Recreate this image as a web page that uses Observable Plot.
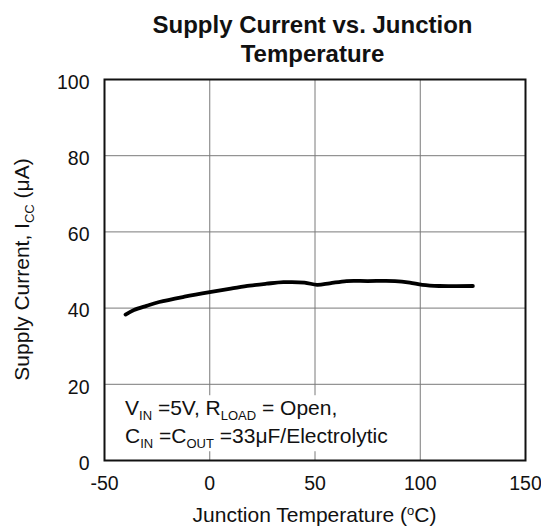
<!DOCTYPE html>
<html><head><meta charset="utf-8">
<script src="https://cdn.jsdelivr.net/npm/d3@7"></script>
<script src="https://cdn.jsdelivr.net/npm/@observablehq/plot@0.6"></script>
<style>
body{margin:0;background:#fff;font-family:"Liberation Sans",Arial,sans-serif}
#wrap{position:relative;width:541px;height:528px}
#title{position:absolute;left:100px;top:10px;width:425px;text-align:center;font-weight:bold;font-size:24px;line-height:29px;color:#111}
</style></head>
<body>
<div id="wrap"><div id="title">Supply Current vs. Junction<br>Temperature</div></div>
<script>
const temps = [-40, -36, -30, -24, -12, 0, 10, 19, 27, 35, 45, 51, 57, 65, 75, 88, 95, 101, 109, 125];
const currents = [38.3, 39.5, 40.6, 41.6, 43.0, 44.2, 45.1, 45.9, 46.4, 46.8, 46.7, 46.1, 46.5, 47.1, 47.1, 47.1, 46.7, 46.1, 45.8, 45.8];
const xTicks = [-50, 0, 50, 100, 150];
const yTicks = [0, 20, 40, 60, 80, 100];
const data = temps.map((t, i) => ({t, c: currents[i]}));

const plot = Plot.plot({
  width: 541, height: 528,
  marginLeft: 104, marginRight: 16, marginTop: 79, marginBottom: 68,
  style: {fontFamily: '"Liberation Sans", Arial, sans-serif', fontSize: "19.5px", color: "#111", background: "transparent"},
  x: {domain: [-50, 150], ticks: xTicks, tickSize: 0, tickPadding: 16, tickFormat: d => String(d), label: null},
  y: {domain: [0, 100], ticks: yTicks, tickSize: 0, tickPadding: 15, tickFormat: d => String(d), label: null},
  marks: [
    Plot.gridX(xTicks.slice(1, -1), {stroke: "#7a7a7a", strokeOpacity: 1, strokeWidth: 1}),
    Plot.gridY(yTicks.slice(1, -1), {stroke: "#7a7a7a", strokeOpacity: 1, strokeWidth: 1}),
    Plot.axisY({ticks: yTicks, tickSize: 0, tickPadding: 15, tickFormat: d => String(d), dy: 3, label: null}),
    Plot.line(data, {x: "t", y: "c", stroke: "#000", strokeWidth: 3.8, curve: "catmull-rom"}),
    Plot.frame({stroke: "#111", strokeWidth: 2})
  ]
});
const wrap = document.getElementById("wrap");
wrap.insertBefore(plot, wrap.firstChild);

const svg = d3.select(plot);
const xs = plot.scale("x"), ys = plot.scale("y");
// white box behind the conditions note (hides the grid lines there)
const lineG = svg.select("g[aria-label=line]").node();
svg.insert("rect", () => lineG)
  .attr("x", xs.apply(-47)).attr("y", ys.apply(17))
  .attr("width", xs.apply(88) - xs.apply(-47)).attr("height", ys.apply(2.3) - ys.apply(17))
  .attr("fill", "#fff");
const fs = 21, ss = 13, sd = 5;
const ax = xs.apply(-40);
const t1 = svg.append("text").attr("x", ax).attr("y", 415).attr("text-anchor", "start").attr("font-size", fs).attr("fill", "#111");
t1.append("tspan").text("V");
t1.append("tspan").attr("dy", sd).attr("font-size", ss).text("IN");
t1.append("tspan").attr("dy", -sd).text(" =5V, R");
t1.append("tspan").attr("dy", sd).attr("font-size", ss).text("LOAD");
t1.append("tspan").attr("dy", -sd).text(" = Open,");
const t2 = svg.append("text").attr("x", ax).attr("y", 443).attr("text-anchor", "start").attr("font-size", fs).attr("fill", "#111");
t2.append("tspan").text("C");
t2.append("tspan").attr("dy", sd).attr("font-size", ss).text("IN");
t2.append("tspan").attr("dy", -sd).text(" =C");
t2.append("tspan").attr("dy", sd).attr("font-size", ss).text("OUT");
t2.append("tspan").attr("dy", -sd).text(" =33\u03BCF/Electrolytic");

// axis titles
const xl = svg.append("text").attr("x", xs.apply(50)).attr("y", 522).attr("text-anchor", "middle").attr("font-size", 21).attr("fill", "#111");
xl.append("tspan").text("Junction Temperature (");
xl.append("tspan").attr("dy", -7).attr("font-size", 13).text("o");
xl.append("tspan").attr("dy", 7).text("C)");
const yl = svg.append("text").attr("transform", `translate(29,${ys.apply(50)}) rotate(-90)`).attr("text-anchor", "middle").attr("font-size", 21).attr("fill", "#111");
yl.append("tspan").text("Supply Current, I");
yl.append("tspan").attr("dy", 5).attr("font-size", 13).text("CC");
yl.append("tspan").attr("dy", -5).text(" (\u03BCA)");
</script>
</body></html>
